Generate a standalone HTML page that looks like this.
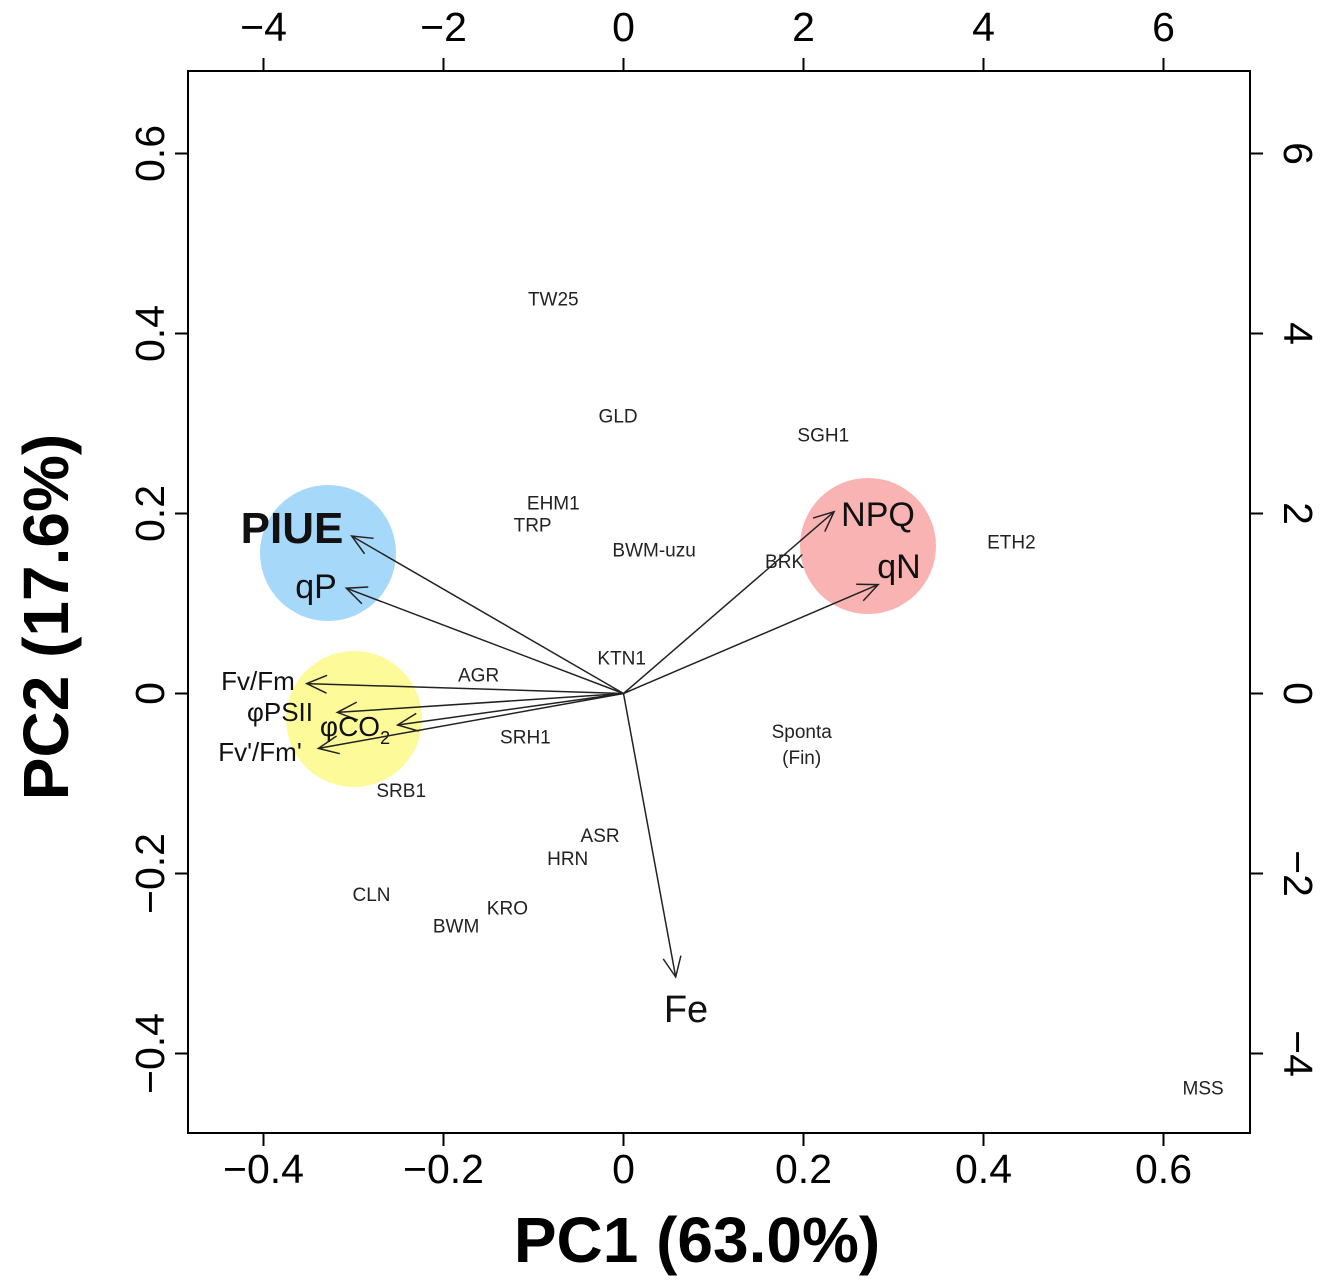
<!DOCTYPE html>
<html><head><meta charset="utf-8"><style>
html,body{margin:0;padding:0;background:#fff}
svg{display:block;font-family:"Liberation Sans",sans-serif}
</style></head><body>
<svg id="chart" width="1328" height="1283" viewBox="0 0 1328 1283">
<rect x="0" y="0" width="1328" height="1283" fill="#fff"/>
<g id="circles"></g>
<g id="arrows"></g>
<g id="points"></g>
<rect x="188" y="71" width="1062" height="1062" fill="none" stroke="#000" stroke-width="2"/>
<g id="axes"></g>
<text x="697" y="1262" font-size="64" font-weight="bold" text-anchor="middle">PC1 (63.0%)</text>
<text transform="translate(68,617) rotate(-90)" font-size="64" font-weight="bold" text-anchor="middle">PC2 (17.6%)</text>
</svg>
<script>
const sampleNames=["TW25","GLD","SGH1","EHM1","TRP","BWM-uzu","BRK","ETH2","KTN1","AGR","SRH1","Sponta|(Fin)","SRB1","ASR","HRN","CLN","KRO","BWM","MSS"];
const sampleX=[-0.78,-0.06,2.22,-0.78,-1.01,0.34,1.79,4.31,-0.02,-1.61,-1.09,1.98,-2.47,-0.26,-0.62,-2.80,-1.29,-1.86,6.44];
const sampleY=[4.39,3.09,2.88,2.12,1.88,1.60,1.47,1.69,0.40,0.21,-0.48,-0.56,-1.07,-1.57,-1.83,-2.23,-2.38,-2.58,-4.38];
const varNames=["PIUE","qP","Fv/Fm","φPSII","φCO2","Fv'/Fm'","NPQ","qN","Fe"];
const loadX=[-0.302,-0.308,-0.352,-0.318,-0.251,-0.339,0.234,0.283,0.058];
const loadY=[0.175,0.117,0.011,-0.021,-0.035,-0.061,0.202,0.121,-0.315];
const bottomTicks=[-0.4,-0.2,0,0.2,0.4,0.6];
const leftTicks=[-0.4,-0.2,0,0.2,0.4,0.6];
const topTicks=[-4,-2,0,2,4,6];
const rightTicks=[-4,-2,0,2,4,6];

const NS="http://www.w3.org/2000/svg";
const OX=623.5, OY=693.5, L=900, S=90;
const lx=v=>OX+L*v, ly=v=>OY-L*v, sx=v=>OX+S*v, sy=v=>OY-S*v;
function mk(tag,attrs,parent,txt){const e=document.createElementNS(NS,tag);for(const k in attrs)e.setAttribute(k,attrs[k]);if(txt!==undefined)e.textContent=txt;parent.appendChild(e);return e;}
const fmt=v=>String(v).replace("-","−");

const cg=document.getElementById("circles");
[["#a6d8fa",328,553,"blue-group-circle"],["#fdfa9a",354,719,"yellow-group-circle"],["#f9b3b3",868,546,"pink-group-circle"]].forEach(c=>{
 const e=mk("circle",{cx:c[1],cy:c[2],r:68,fill:c[0]},cg);
 
 
});

const ag=document.getElementById("arrows");
const labelPos={"PIUE":[292,543,44,true],"qP":[316,598,34],"Fv/Fm":[258,690,26],"φPSII":[280,721,26],"φCO2":[355,736,28],"Fv'/Fm'":[260,761,26],"NPQ":[878,526,34],"qN":[899,578,34],"Fe":[686,1022,38]};
varNames.forEach((n,i)=>{
 const x2=lx(loadX[i]),y2=ly(loadY[i]);
 const g=mk("g",{},ag);
 
 
 mk("line",{x1:OX,y1:OY,x2:x2,y2:y2,stroke:"#222","stroke-width":1.5},g);
 const a=Math.atan2(y2-OY,x2-OX),h=22,w=0.42;
 mk("polyline",{points:`${x2-h*Math.cos(a-w)},${y2-h*Math.sin(a-w)} ${x2},${y2} ${x2-h*Math.cos(a+w)},${y2-h*Math.sin(a+w)}`,fill:"none",stroke:"#222","stroke-width":1.5},g);
 const p=labelPos[n];
 const t=mk("text",{x:p[0],y:p[1],"font-size":p[2],"text-anchor":"middle","font-weight":p[3]?"bold":"normal",fill:"#111"},g);
 if(n==="φCO2"){t.textContent="φCO";mk("tspan",{"font-size":18,dy:8},t,"2");}
 else t.textContent=n;
 
 
});

const pg=document.getElementById("points");
sampleNames.forEach((n,i)=>{
 const x=sx(sampleX[i]),y=sy(sampleY[i]);
 const parts=n.split("|");
 const t=mk("text",{x:x,y:y+7-(parts.length-1)*13,"font-size":19,"text-anchor":"middle",fill:"#222"},pg);
 parts.forEach((p,j)=>mk("tspan",{x:x,dy:j?26:0},t,p));
 
 
});

const ax=document.getElementById("axes");
bottomTicks.forEach(v=>{const x=lx(v);mk("line",{x1:x,y1:1133,x2:x,y2:1146,stroke:"#000","stroke-width":2},ax);
 const t=mk("text",{x:x,y:1183,"font-size":41,"text-anchor":"middle"},ax,fmt(v));});
topTicks.forEach(v=>{const x=sx(v);mk("line",{x1:x,y1:71,x2:x,y2:58,stroke:"#000","stroke-width":2},ax);
 const t=mk("text",{x:x,y:41,"font-size":41,"text-anchor":"middle"},ax,fmt(v));});
leftTicks.forEach(v=>{const y=ly(v);mk("line",{x1:188,y1:y,x2:175,y2:y,stroke:"#000","stroke-width":2},ax);
 const t=mk("text",{transform:`translate(164,${y}) rotate(-90)`,"font-size":41,"text-anchor":"middle"},ax,fmt(v));});
rightTicks.forEach(v=>{const y=sy(v);mk("line",{x1:1250,y1:y,x2:1263,y2:y,stroke:"#000","stroke-width":2},ax);
 const t=mk("text",{transform:`translate(1284,${y}) rotate(90)`,"font-size":41,"text-anchor":"middle"},ax,fmt(v));});
</script>
</body></html>
